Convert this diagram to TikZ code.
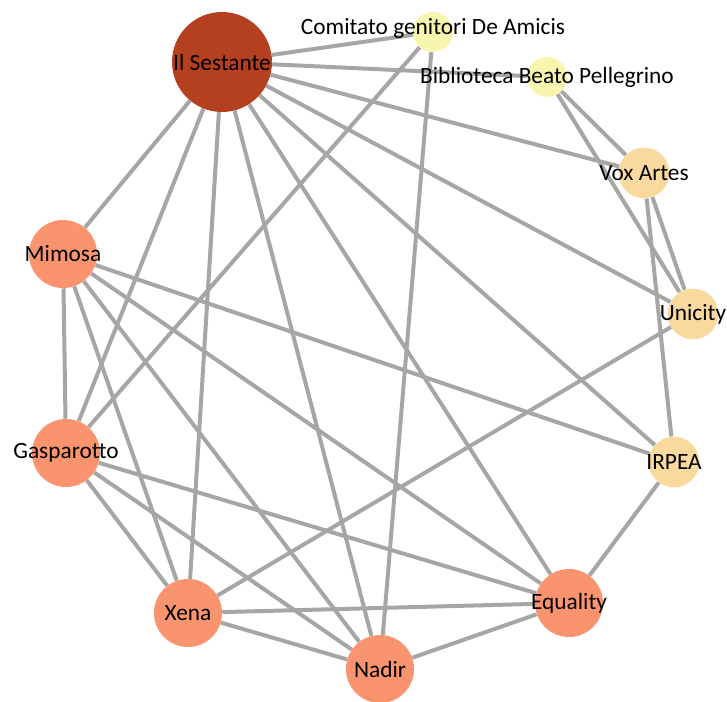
\documentclass[tikz,border=0pt]{standalone}
\usepackage{fontspec}
\setmainfont{Carlito}
\usetikzlibrary{backgrounds}
\definecolor{NetDark}{HTML}{B5401F}
\definecolor{NetSalmon}{HTML}{FA946E}
\definecolor{NetPeach}{HTML}{FAD99E}
\definecolor{NetPale}{HTML}{F8F6AE}
\definecolor{NetEdge}{HTML}{A6A6A6}

\begin{document}
\begin{tikzpicture}[x=0.75pt,y=-0.75pt,
    org/.style={circle,inner sep=0pt,draw=none},
    big/.style={org,fill=NetDark,minimum size=75pt},
    mid/.style={org,fill=NetSalmon,minimum size=51pt},
    small/.style={org,fill=NetPeach,minimum size=38pt},
    tiny/.style={org,fill=NetPale,minimum size=30pt},
    every label/.style={inner sep=0pt,font=\fontsize{17.5}{20}\selectfont},
    link/.style={draw=NetEdge,line width=3pt}
  ]
    \useasboundingbox (0,0) rectangle (727,702);
    % outer ring of organisations
    \node[big,label=center:Il Sestante] (ses) at (222,62) {};
    \node[tiny,label={[yshift=3pt]center:Comitato genitori De Amicis}] (com) at (433,32) {};
    \node[tiny,label=center:Biblioteca Beato Pellegrino] (bib) at (547,77) {};
    \node[small,label=center:Vox Artes] (vox) at (644,173) {};
    \node[small,label=center:Unicity] (uni) at (693,314) {};
    \node[small,label=center:IRPEA] (irp) at (674,462) {};
    \node[mid,label=center:Equality] (equ) at (569,603) {};
    \node[mid,label=center:Nadir] (nad) at (380,669) {};
    \node[mid,label=center:Xena] (xen) at (188,613) {};
    \node[mid,label=center:Gasparotto] (gas) at (66,453) {};
    \node[mid,label=center:Mimosa] (mim) at (63,254) {};
    % ties
    \begin{scope}[on background layer]
      \foreach \t in {com,bib,vox,uni,irp,equ,nad,xen,gas,mim}
        \draw[link] (ses) -- (\t);
      \draw[link] (com)--(gas);\draw[link] (com)--(nad);
      \draw[link] (bib)--(vox);\draw[link] (bib)--(uni);
      \draw[link] (vox)--(uni);\draw[link] (vox)--(irp);
      \draw[link] (uni)--(xen);
      \draw[link] (irp)--(equ);\draw[link] (irp)--(mim);
      \draw[link] (equ)--(xen);\draw[link] (equ)--(nad);
      \draw[link] (equ)--(mim);\draw[link] (equ)--(gas);
      \draw[link] (nad)--(xen);\draw[link] (nad)--(mim);\draw[link] (nad)--(gas);
      \draw[link] (xen)--(mim);\draw[link] (xen)--(gas);
      \draw[link] (mim)--(gas);
    \end{scope}
  \end{tikzpicture}
\end{document}
